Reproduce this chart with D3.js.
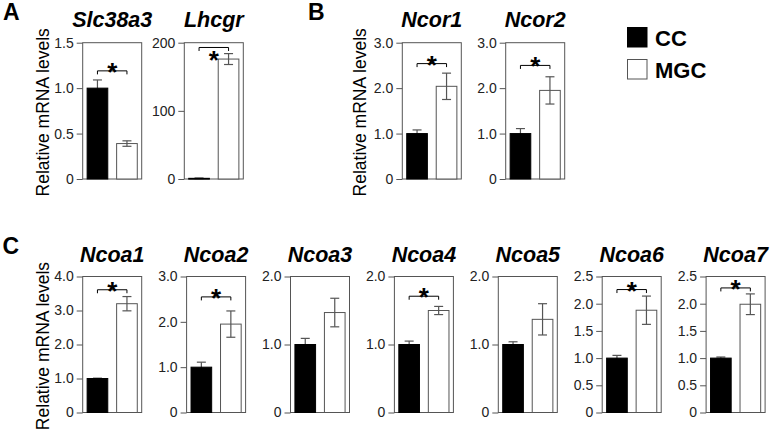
<!DOCTYPE html>
<html>
<head>
<meta charset="utf-8">
<script src="https://cdn.jsdelivr.net/npm/d3@7/dist/d3.min.js"></script>
<style>
  html, body { margin: 0; padding: 0; background: #fff; }
  svg { display: block; font-family: "Liberation Sans", Arial, sans-serif; }
</style>
</head>
<body>
<svg id="chart" width="772" height="430"></svg>
<script>
// ---------------- data ----------------
const groups = ["CC", "MGC"];
const genes = ["Slc38a3", "Lhcgr", "Ncor1", "Ncor2",
               "Ncoa1", "Ncoa2", "Ncoa3", "Ncoa4", "Ncoa5", "Ncoa6", "Ncoa7"];
const ccMean  = [1.0, 1,   1.0,  1.0,  1.0,  1.0,  1.0,  1.0,  1.0,  1.0,  1.0];
const ccErr   = [0.09, 0.5, 0.08, 0.11, 0.01, 0.11, 0.09, 0.05, 0.04, 0.05, 0.02];
const mgcMean = [0.39, 176, 2.04, 1.95, 3.2,  1.95, 1.47, 1.50, 1.37, 1.88, 1.99];
const mgcErr  = [0.03, 8,   0.29, 0.30, 0.21, 0.29, 0.21, 0.06, 0.23, 0.26, 0.19];
const yMax    = [1.5, 200, 3, 3, 4, 3, 2, 2, 2, 2.5, 2.5];
const tickLabels = [
  ["0", "0.5", "1.0", "1.5"],
  ["0", "100", "200"],
  ["0", "1.0", "2.0", "3.0"],
  ["0", "1.0", "2.0", "3.0"],
  ["0", "1.0", "2.0", "3.0", "4.0"],
  ["0", "1.0", "2.0", "3.0"],
  ["0", "1.0", "2.0"],
  ["0", "1.0", "2.0"],
  ["0", "1.0", "2.0"],
  ["0", "0.5", "1.0", "1.5", "2.0", "2.5"],
  ["0", "0.5", "1.0", "1.5", "2.0", "2.5"]
];
// level of significance bracket (null = not significant)
const sigLevel = [1.19, 193, 2.54, 2.5, 3.61, 2.55, null, 1.71, null, 2.26, 2.29];
const panelLetters = ["A", "B", "C"];
const yLabel = "Relative mRNA levels";

// ---------------- layout ----------------
const svg = d3.select("#chart");
const frameW = 59;
const rowAB = { top: 42.7, bottom: 179, titleY: 26.5 };
const rowC  = { top: 276.5, bottom: 412.5, titleY: 261.5 };
const frameLeft = [82.7, 184.3, 402.3, 505.7];
for (let i = 0; i < 7; i++) frameLeft.push(82.7 + i * 103.9);
const starBelow = [false, true, false, false, false, false, false, false, false, false, false];

const axisColor = "#555";

genes.forEach((g, i) => {
  const row = i < 4 ? rowAB : rowC;
  const x0 = frameLeft[i];
  const panel = svg.append("g").attr("transform", `translate(${x0},0)`);

  const x = d3.scaleBand().domain(groups).range([0, frameW])
    .paddingInner(0.3).paddingOuter(0.15);
  const y = d3.scaleLinear().domain([0, yMax[i]]).range([row.bottom, row.top]);

  const tickVals = tickLabels[i].map(Number);
  const axis = d3.axisLeft(y).tickValues(tickVals)
    .tickFormat((d, k) => tickLabels[i][k]).tickSize(6).tickPadding(3);
  const ag = panel.append("g").call(axis);
  ag.select(".domain").remove();
  ag.selectAll(".tick line").attr("stroke", axisColor);
  ag.selectAll(".tick text").attr("fill", "#222")
    .style("font-size", "14px").style("font-family", '"Liberation Sans", Arial, sans-serif');

  // frame
  panel.append("rect")
    .attr("x", 0).attr("y", row.top)
    .attr("width", frameW).attr("height", row.bottom - row.top)
    .attr("fill", "none").attr("stroke", axisColor).attr("stroke-width", 1);

  const vals = [
    { grp: "CC", m: ccMean[i], e: ccErr[i] },
    { grp: "MGC", m: mgcMean[i], e: mgcErr[i] }
  ];
  const capW = 9;
  const drawErr = (sel) => {
    sel.each(function (d) {
      const cx = x(d.grp) + x.bandwidth() / 2;
      const gg = d3.select(this);
      gg.append("line").attr("x1", cx).attr("x2", cx)
        .attr("y1", y(d.m - d.e)).attr("y2", y(d.m + d.e));
      gg.append("line").attr("x1", cx - capW / 2).attr("x2", cx + capW / 2)
        .attr("y1", y(d.m + d.e)).attr("y2", y(d.m + d.e));
      gg.append("line").attr("x1", cx - capW / 2).attr("x2", cx + capW / 2)
        .attr("y1", y(d.m - d.e)).attr("y2", y(d.m - d.e));
    }).attr("stroke", axisColor).attr("stroke-width", 1.2);
  };

  // CC error bar behind its bar
  panel.selectAll(".errcc").data(vals.filter(d => d.grp === "CC")).enter()
    .append("g").call(drawErr);

  panel.selectAll(".bar").data(vals).enter().append("rect")
    .attr("x", d => x(d.grp))
    .attr("width", x.bandwidth())
    .attr("y", d => y(d.m))
    .attr("height", d => Math.max(0.8, y(0) - y(d.m)))
    .attr("fill", d => d.grp === "CC" ? "#000" : "#fff")
    .attr("stroke", d => d.grp === "CC" ? "#000" : axisColor)
    .attr("stroke-width", 1);

  panel.selectAll(".errmgc").data(vals.filter(d => d.grp === "MGC")).enter()
    .append("g").call(drawErr);

  // significance bracket
  if (sigLevel[i] !== null) {
    const by = y(sigLevel[i]);
    const xa = x("CC") + x.bandwidth() / 2;
    const xb = x("MGC") + x.bandwidth() / 2;
    panel.append("path")
      .attr("d", `M${xa},${by + 3.5}V${by}H${xb}V${by + 3.5}`)
      .attr("fill", "none").attr("stroke", "#000").attr("stroke-width", 1);
    panel.append("text")
      .attr("x", (xa + xb) / 2)
      .attr("y", starBelow[i] ? by + 22 : by + 10)
      .attr("text-anchor", "middle")
      .style("font-size", "26px").style("font-weight", "bold")
      .text("*");
  }

  // title
  panel.append("text")
    .attr("x", frameW / 2).attr("y", row.titleY)
    .attr("text-anchor", "middle")
    .style("font-size", "21.5px").style("font-weight", "bold").style("font-style", "italic")
    .text(g);
});

// y axis labels
const yLabelPos = [
  { x: 49, row: rowAB },
  { x: 366, row: rowAB },
  { x: 49, row: rowC }
];
yLabelPos.forEach(p => {
  const cy = (p.row.top + p.row.bottom) / 2 + 1.5;
  svg.append("text")
    .attr("transform", `translate(${p.x},${cy}) rotate(-90)`)
    .attr("text-anchor", "middle")
    .style("font-size", "17.5px")
    .text(yLabel);
});

// panel letters
const letterPos = [[3, 19.5], [308, 19.5], [2.5, 254]];
panelLetters.forEach((L, k) => {
  svg.append("text")
    .attr("x", letterPos[k][0]).attr("y", letterPos[k][1])
    .style("font-size", "23px").style("font-weight", "bold")
    .text(L);
});

// legend
const legend = svg.append("g");
groups.forEach((grp, k) => {
  legend.append("rect")
    .attr("x", 627.5).attr("y", 27.5 + k * 32)
    .attr("width", 19.5).attr("height", 19.5)
    .attr("fill", grp === "CC" ? "#000" : "#fff")
    .attr("stroke", grp === "CC" ? "#000" : axisColor);
  legend.append("text")
    .attr("x", 655).attr("y", 45.5 + k * 32)
    .style("font-size", "22px").style("font-weight", "bold")
    .text(grp);
});
</script>
</body>
</html>
